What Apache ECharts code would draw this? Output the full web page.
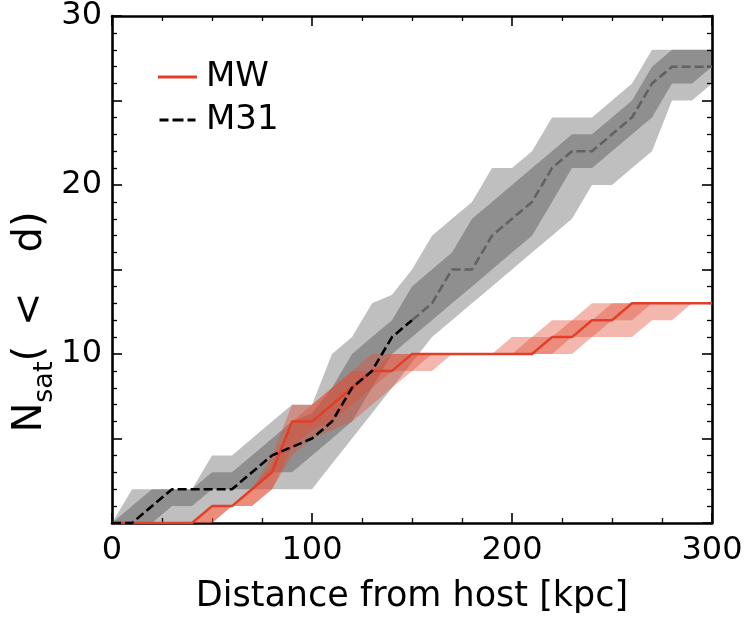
<!DOCTYPE html>
<html><head><meta charset="utf-8">
<script src="https://cdn.jsdelivr.net/npm/echarts@6/dist/echarts.min.js"></script>
<style>html,body{margin:0;padding:0;background:#fff}#c{width:746px;height:619px}</style>
</head><body><div id="c"></div>
<script>
// distance grid [kpc]
const distances = [0,10,20,30,40,50,60,70,80,90,100,110,120,130,140,150,160,170,180,190,200,210,220,230,240,250,260,270,280,290,300];

// M31 cumulative satellite counts
const m31Median = [0,0,1,2,2,2,2,3,4,4.5,5,6,8,9,11,12,13,15,15,17,18,19,21,22,22,23,24,26,27,27,27];
const m31Up95   = [0,2,2,2,2,4,4,5,6,7,7,10,11,13,13.5,15,17,18,19,21,21,22,24,24,24,25,26,28,28,28,28];
const m31Up68   = [0,1,2,2,2,3,3,4,5,6,6.5,8,10,11,12,14,15,16,18,19,20,21,22,23,23,24,25,27,28,28,28];
const m31Lo68   = [0,0,0,1,1,2,2,2,3,3,4,5,6,8,10,11,12,13,14,15,16,17,19,21,21,22,23,24,26,26,27];
const m31Lo95   = [0,0,0,0,0,1,1,2,2,2,2,3.5,5,6.5,8,9.5,11,12,13,14,15,16,17,18,20,20,21,22,25,25,26];

// MW cumulative satellite counts
const mwMedian = [0,0,0,0,0,1,1,2,3,6,6,7,8,9,9,10,10,10,10,10,10,10,11,11,12,12,13,13,13,13,13];
const mwUp95   = [0,0,0,0,0,1,1,2,4,7,7,8,9,10,10,10,10,10,10,10,11,11,12,12,13,13,13,13,13,13,13];
const mwUp68   = [0,0,0,0,0,1,1,2,3.5,6,7,8,9,9,10,10,10,10,10,10,10,11,11,12,12,13,13,13,13,13,13];
const mwLo68   = [0,0,0,0,0,0,1,1,2,4.5,5.5,6,7,8,9,9,10,10,10,10,10,10,10,11,11,12,12,13,13,13,13];
const mwLo95   = [0,0,0,0,0,0,1,1,2,4,5,5.5,6,7,8,9,9,10,10,10,10,10,10,10,11,11,11,12,12,13,13];

// the M31 median is drawn black out to this distance and grey beyond
const m31SolidLimit = 150;

const xTicks = [0,100,200,300];
const yTicks = [10,20,30];

const FONT = 'DejaVu Sans';
const pairs = arr => distances.map((d,i) => [d, arr[i]]);

// a shaded band between lo and hi, drawn as one polygon through the axes' scales
function band(lo, hi, key, color, z) {
  return {
    type:'custom', name:key, coordinateSystem:'cartesian2d', silent:true, z:z, clip:true,
    data: distances.map((d,i) => [d, lo[i], hi[i]]),
    encode:{x:0, y:[1,2]},
    renderItem:function(params, api){
      if (params.dataIndexInside !== 0) return null;
      const n = params.dataInsideLength || distances.length;
      const top = [], bot = [];
      for (let i = 0; i < n; i++) {
        top.push(api.coord([api.value(0,i), api.value(2,i)]));
        bot.push(api.coord([api.value(0,i), api.value(1,i)]));
      }
      return {type:'polygon', shape:{points: top.concat(bot.reverse())}, style:{fill:color}};
    }
  };
}

const GREY = 'rgba(0,0,0,0.25)';
const RED = '#e23f2a';
const REDBAND = 'rgba(226,74,51,0.4)';

const series = [
  band(m31Lo95, m31Up95, 'm31_95', GREY, 1),
  band(m31Lo68, m31Up68, 'm31_68', GREY, 1),
  band(mwLo95, mwUp95, 'mw_95', REDBAND, 2),
  band(mwLo68, mwUp68, 'mw_68', REDBAND, 2),
  {type:'line', name:'MW', data:pairs(mwMedian), symbol:'none', silent:true,
   itemStyle:{color:RED}, lineStyle:{color:RED,width:2.5}, z:3},
  {type:'line', name:'M31', data:pairs(m31Median).filter(p=>p[0]<=m31SolidLimit), symbol:'none', silent:true,
   itemStyle:{color:'#000'}, lineStyle:{color:'#000',width:2.6,type:[9,4]}, z:4},
  {type:'line', name:'M31_far', data:pairs(m31Median).filter(p=>p[0]>=m31SolidLimit), symbol:'none', silent:true,
   itemStyle:{color:'#626262'}, lineStyle:{color:'#626262',width:2.6,type:[9,4]}, z:4}
];

const axisCommon = {
  axisLine:{show:true, onZero:false, lineStyle:{color:'#000', width:2.6}},
  axisTick:{show:true, inside:true, length:10, lineStyle:{color:'#000', width:1.6}},
  splitLine:{show:false}
};

const chart = echarts.init(document.getElementById('c'), null, {renderer:'canvas'});
chart.setOption({
  animation:false,
  backgroundColor:'#fff',
  grid:{left:112, right:34, top:14, bottom:92.5, containLabel:false},
  legend:{
    data:[
      {name:'MW', icon:'path://M0,0H39V3H0Z'},
      {name:'M31', icon:'path://M0,0H9V3H0Z M13,0H24V3H13Z M28,0H36V3H28Z'}
    ],
    orient:'vertical', left:158, top:60, padding:0, itemWidth:39, itemHeight:3, itemGap:9,
    selectedMode:false,
    textStyle:{fontFamily:FONT, fontSize:34, lineHeight:34, color:'#000', padding:[0,0,0,4]}
  },
  xAxis:[
    Object.assign({type:'value', position:'bottom', min:0, max:300, interval:100,
      name:'Distance from host [kpc]', nameLocation:'middle', nameGap:56,
      nameTextStyle:{fontFamily:FONT, fontSize:35, color:'#000'},
      axisLabel:{show:true, margin:12, fontFamily:FONT, fontSize:32, color:'#000',
        formatter:v => xTicks.includes(v) ? String(v) : ''},
      minorTick:{show:true, splitNumber:4, length:5, lineStyle:{color:'#000', width:1.3}}}, axisCommon),
    Object.assign({type:'value', position:'top', min:0, max:300, interval:100,
      axisLabel:{show:false},
      minorTick:{show:true, splitNumber:4, length:5, lineStyle:{color:'#000', width:1.3}}}, axisCommon)
  ],
  yAxis:[
    Object.assign({type:'value', position:'left', min:0, max:30, interval:5,
      axisLabel:{show:true, margin:10, fontFamily:FONT, fontSize:32, color:'#000',
        formatter:v => yTicks.includes(v) ? String(v) : ''},
      minorTick:{show:true, splitNumber:5, length:5, lineStyle:{color:'#000', width:1.3}}}, axisCommon),
    Object.assign({type:'value', position:'right', min:0, max:30, interval:5,
      axisLabel:{show:false},
      minorTick:{show:true, splitNumber:5, length:5, lineStyle:{color:'#000', width:1.3}}}, axisCommon)
  ],
  graphic:[{
    type:'text', x:31, y:322, rotation:Math.PI/2, silent:true,
    style:{
      text:'{a|N}{b|sat}{a|(\u2002<\u2003d)}',
      align:'center', verticalAlign:'middle',
      rich:{
        a:{fontFamily:FONT, fontSize:40, lineHeight:40, verticalAlign:'top', fill:'#000', color:'#000'},
        b:{fontFamily:FONT, fontSize:27, lineHeight:27, verticalAlign:'top', padding:[20,0,0,0], fill:'#000', color:'#000'}
      }
    }
  }],
  series: series.map(s => Object.assign({xAxisIndex:0, yAxisIndex:0}, s))
});
</script>
</body></html>
